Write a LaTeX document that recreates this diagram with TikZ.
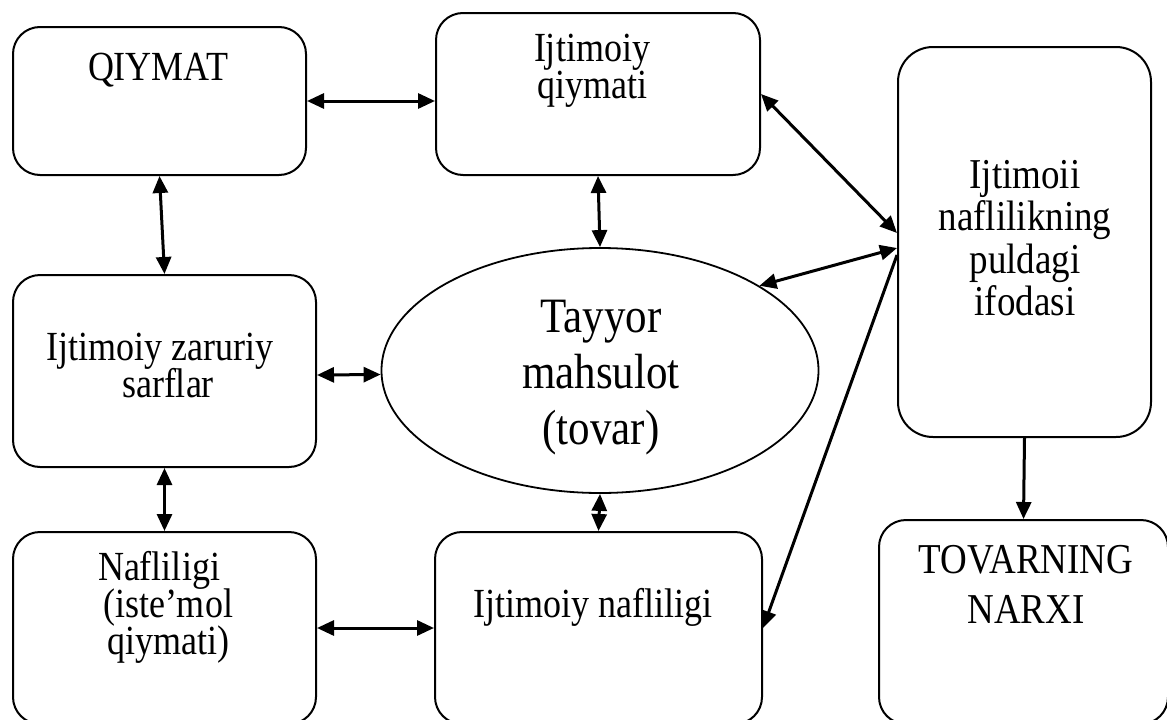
\documentclass[tikz,border=0pt]{standalone}
\usepackage{fontspec}
\setmainfont{Liberation Serif}
\usetikzlibrary{arrows.meta,shapes.geometric}
% letters in this chart are set slightly taller than wide
\newcommand\vstretch[1]{\scalebox{1}[1.15]{#1}}
% centred lines (separated by \cr) with a fixed baseline distance;
% the reference point is the baseline of the first line
\newcommand\stacklines[2]{\vstretch{\vtop{\baselineskip=#1\lineskiplimit=-100pt\lineskip=0pt
  \halign{\hfil##\hfil\cr#2\crcr}}}}
\begin{document}
\begin{tikzpicture}[x=1pt,y=-1pt,
  box/.style={draw, line width=2pt, rounded corners=27pt, inner sep=0pt},
  oval/.style={draw, ellipse, line width=1.8pt, inner sep=0pt},
  lbl/.style={inner sep=0pt, anchor=base},
  fbox/.style={font=\fontsize{36}{40}\selectfont},
  fbig/.style={font=\fontsize{37}{40}\selectfont},
  foval/.style={font=\fontsize{43}{48}\selectfont},
  both/.style={line width=3pt, {Triangle[length=17pt,width=15pt]}-{Triangle[length=17pt,width=15pt]}},
  onetip/.style={line width=3pt, -{Triangle[length=17pt,width=15pt]}}]

\useasboundingbox (0,0) rectangle (1167,720);
\clip (0,0) rectangle (1167,720);

% boxes
\node[box, minimum width=293pt, minimum height=148pt] (qv) at (159.5,101) {};
\node[box, minimum width=324pt, minimum height=162pt] (iq) at (598,94) {};
\node[box, rounded corners=35pt, minimum width=253pt, minimum height=390pt] (rb) at (1024.5,242) {};
\node[box, minimum width=303pt, minimum height=192pt] (zs) at (164.5,371) {};
\node[box, minimum width=303pt, minimum height=192pt] (nq) at (164.5,628) {};
\node[box, minimum width=327pt, minimum height=192pt] (in) at (598.5,628) {};
\node[box, minimum width=289pt, minimum height=204pt] (tn) at (1023.5,622) {};
\node[oval, minimum width=437pt, minimum height=245pt] (tm) at (600,370.5) {};

% texts (each placed at the baseline of its first line)
\node[lbl, fbox] (qvt) at (158,80) {\vstretch{QIYMAT}};
\node[lbl, fbox] (iqt) at (592,61) {\stacklines{32.2pt}{Ijtimoiy\cr qiymati}};
\node[lbl, fbig] (rbt) at (1025,188) {\stacklines{37pt}{Ijtimoii\cr naflilikning\cr puldagi\cr ifodasi}};
\node[lbl, fbox] (zst) at (160,360) {\stacklines{32.2pt}{Ijtimoiy zaruriy\cr \hspace{16pt}sarflar}};
\node[lbl, fbox] (nqt) at (168,580) {\stacklines{32.2pt}{Nafliligi\hspace{18pt}\cr (iste’mol\cr qiymati)}};
\node[lbl, fbox] (int) at (593,617) {\vstretch{Ijtimoiy nafliligi}};
\node[lbl, fbig] (tnt) at (1026,573) {\stacklines{43.5pt}{TOVARNING\cr NARXI}};
\node[lbl, foval] (tmt) at (601,332) {\stacklines{49.1pt}{Tayyor\cr mahsulot\cr (tovar)}};

% connectors
\draw[both] (qv.east) -- (qv.east -| iq.west);
\draw[both] (qv.south) -- (zs.north);
\draw[both] (iq.south) -- (tm.north);
\draw[both] (iq.east) -- ([yshift=9pt]rb.west);
\draw[both] ([yshift=-6pt]rb.west) -- (tm.28);
\draw[onetip] ([yshift=-13pt]rb.west) -- (in.east);
\draw[both] ([yshift=-4pt]zs.east) -- ([yshift=-4pt]tm.west);
\draw[both] (zs.south) -- (nq.north);
\draw[both] (nq.east) -- (in.west);
\draw[both] (tm.south) -- (in.north);
\draw[onetip] (rb.south) -- (tn.north);
\end{tikzpicture}
\end{document}
